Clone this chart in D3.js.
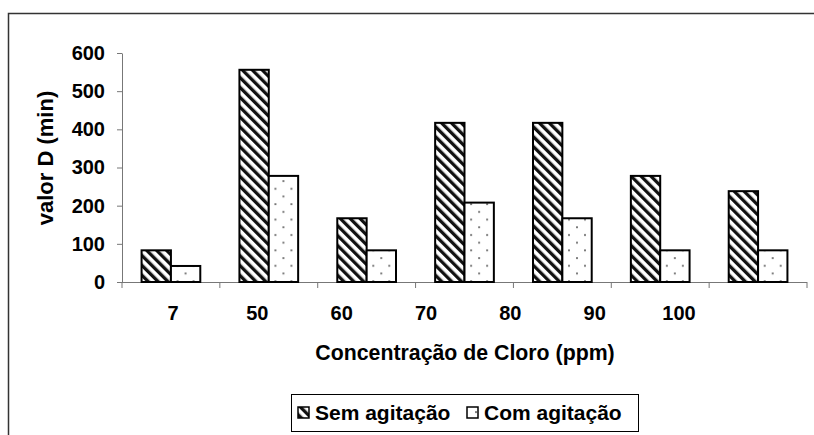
<!DOCTYPE html>
<html>
<head>
<meta charset="utf-8">
<script src="https://cdn.jsdelivr.net/npm/d3@7"></script>
<style>
  body { margin: 0; background: #fff; }
  svg { display: block; }
  svg text { font-family: "Liberation Sans", Arial, sans-serif; font-weight: bold; fill: #000; }
</style>
</head>
<body>
<svg width="814" height="435"></svg>
<script>
// values
const categories = ['7', '50', '60', '70', '80', '90', '100'];
const series = ['Sem agitação', 'Com agitação'];
const semAgitacao = [83, 556, 167, 417, 417, 278, 238];
const comAgitacao = [42, 278, 83, 208, 167, 83, 83];
const yTicks = [0, 100, 200, 300, 400, 500, 600];

const svg = d3.select('svg');
const defs = svg.append('defs');

// diagonal hatch for "Sem agitação"
defs.append('pattern')
    .attr('id', 'hatch')
    .attr('patternUnits', 'userSpaceOnUse')
    .attr('width', 7).attr('height', 7)
    .attr('patternTransform', 'rotate(-45)')
  .append('rect')
    .attr('x', 0).attr('y', 0)
    .attr('width', 3.3).attr('height', 7)
    .attr('fill', '#111');

// sparse dots for "Com agitação"
const dots = defs.append('pattern')
    .attr('id', 'dots')
    .attr('patternUnits', 'userSpaceOnUse')
    .attr('width', 16).attr('height', 15.4);
dots.append('rect').attr('width', 16).attr('height', 15.4).attr('fill', '#fff');
dots.append('circle').attr('cx', 4).attr('cy', 4).attr('r', 1).attr('fill', '#666');
dots.append('circle').attr('cx', 12).attr('cy', 11.7).attr('r', 1).attr('fill', '#666');

const fills = ['url(#hatch)', 'url(#dots)'];

// outer chart frame (runs off the right and bottom edges)
svg.append('path')
    .attr('d', 'M8.5,435 V13.5 H814')
    .attr('fill', 'none')
    .attr('stroke', '#333')
    .attr('stroke-width', 1.5);

const x0 = 122, x1 = 807;
const y = d3.scaleLinear().domain([0, 600]).range([282, 53]);
const x = d3.scaleBand().domain(categories).range([x0, x1])
    .paddingInner(0.4).paddingOuter(0.2);
const xs = d3.scaleBand().domain(series).range([0, x.bandwidth()]);
const labelX = d3.scalePoint().domain(categories).range([173, 679]);

// y axis
const yAxis = svg.append('g')
    .attr('transform', `translate(${x0},0)`)
    .call(d3.axisLeft(y).tickValues(yTicks).tickSize(5).tickPadding(12).tickSizeOuter(0));
yAxis.attr('font-size', null).attr('font-family', null);
yAxis.select('.domain').attr('stroke', '#777');
yAxis.selectAll('.tick line').attr('stroke', '#777');
yAxis.selectAll('.tick text').style('font-size', '20px');

// x axis line with ticks at band boundaries
svg.append('line')
    .attr('x1', x0).attr('x2', x1)
    .attr('y1', y(0) + 0.5).attr('y2', y(0) + 0.5)
    .attr('stroke', '#777');
svg.selectAll('.xtick').data(d3.range(categories.length + 1))
  .enter().append('line')
    .attr('class', 'xtick')
    .attr('x1', i => x0 + i * x.step()).attr('x2', i => x0 + i * x.step())
    .attr('y1', y(0)).attr('y2', y(0) + 6)
    .attr('stroke', '#777');

// bars
const rows = categories.map((c, i) => ({ cat: c, vals: [semAgitacao[i], comAgitacao[i]] }));
const groups = svg.selectAll('.grp').data(rows)
  .enter().append('g')
    .attr('class', 'grp')
    .attr('transform', d => `translate(${x(d.cat)},0)`);
groups.selectAll('rect')
    .data(d => d.vals.map((v, j) => ({ s: series[j], v: v, j: j })))
  .enter().append('rect')
    .attr('x', d => xs(d.s))
    .attr('y', d => y(d.v))
    .attr('width', xs.bandwidth())
    .attr('height', d => y(0) - y(d.v))
    .attr('fill', d => fills[d.j])
    .attr('stroke', '#000')
    .attr('stroke-width', 2);

// category labels
svg.selectAll('.xlab').data(categories)
  .enter().append('text')
    .attr('class', 'xlab')
    .attr('x', d => labelX(d))
    .attr('y', 320)
    .attr('text-anchor', 'middle')
    .style('font-size', '20px')
    .text(d => d);

// axis titles
svg.append('text')
    .attr('x', 465).attr('y', 360)
    .attr('text-anchor', 'middle')
    .style('font-size', '21.3px')
    .text('Concentração de Cloro (ppm)');

svg.append('text')
    .attr('transform', 'translate(53,158) rotate(-90)')
    .attr('text-anchor', 'middle')
    .style('font-size', '22px')
    .text('valor D (min)');

// legend
const legend = svg.append('g');
legend.append('rect')
    .attr('x', 291.5).attr('y', 394.5)
    .attr('width', 347).attr('height', 37)
    .attr('fill', '#fff')
    .attr('stroke', '#000')
    .attr('stroke-width', 1);
const legX = [298, 467];
series.forEach((s, j) => {
    legend.append('rect')
        .attr('x', legX[j]).attr('y', 407)
        .attr('width', 11).attr('height', 11)
        .attr('fill', fills[j])
        .attr('stroke', '#000')
        .attr('stroke-width', 1.5);
    legend.append('text')
        .attr('x', legX[j] + 17).attr('y', 420)
        .style('font-size', '21px')
        .text(s);
});
</script>
</body>
</html>
